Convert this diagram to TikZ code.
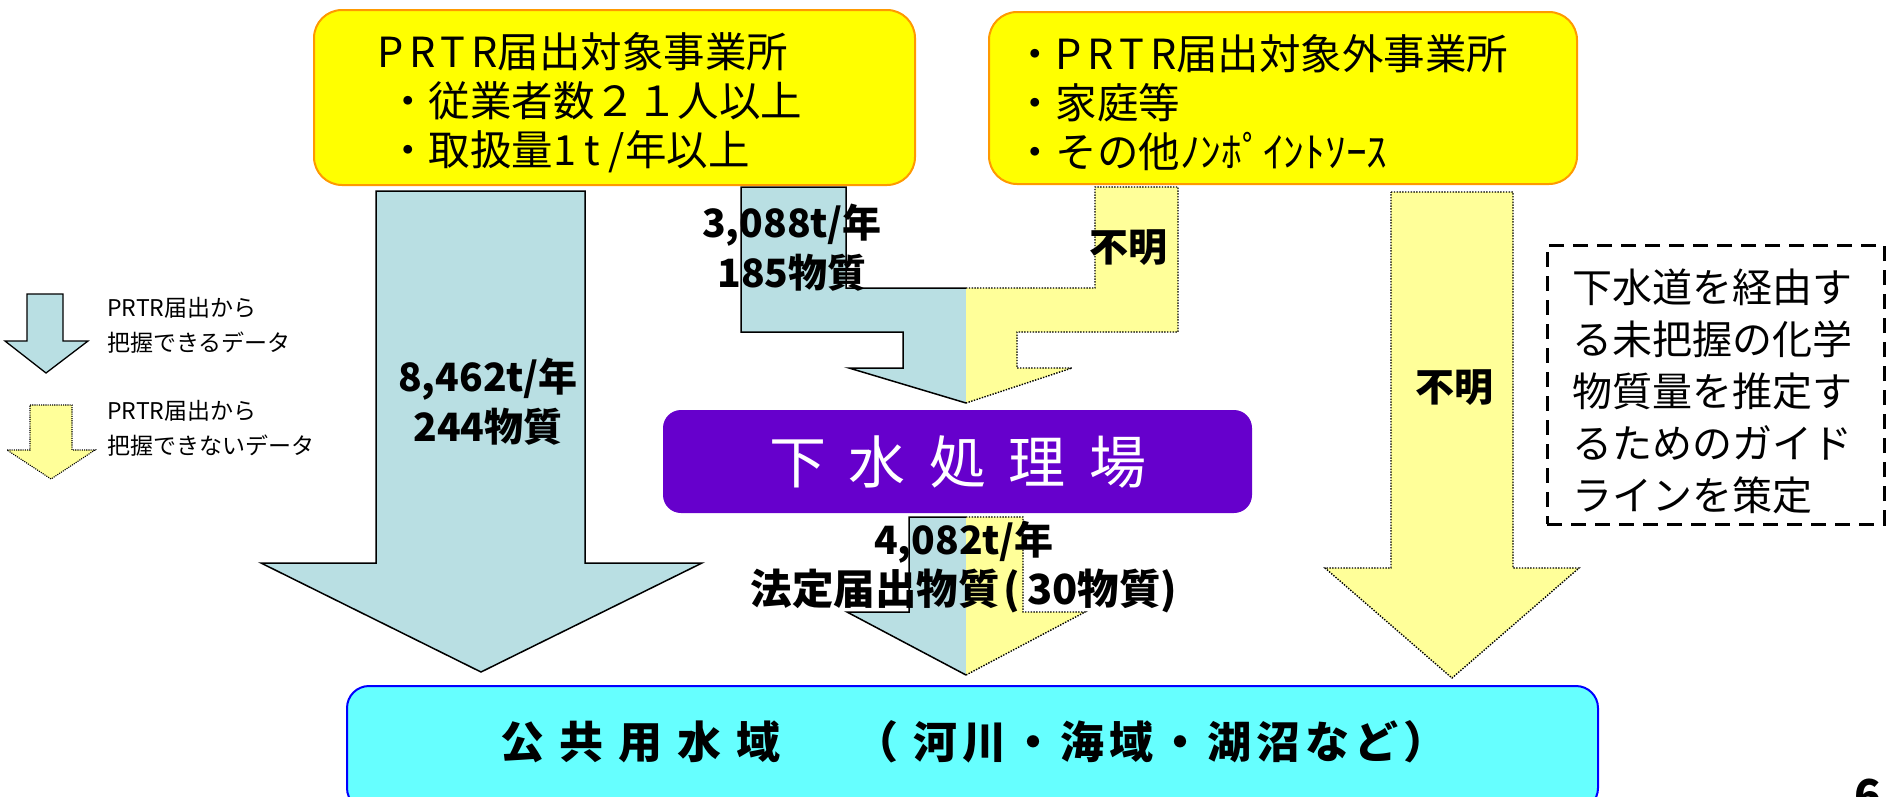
\documentclass[tikz,border=0pt]{standalone}
\usepackage{fontspec}
\setmainfont{Noto Sans CJK JP}
\definecolor{ybox}{HTML}{FFFF00}
\definecolor{yorange}{HTML}{FF9900}
\definecolor{abl}{HTML}{B9DFE3}
\definecolor{ayl}{HTML}{FFFF99}
\definecolor{purp}{HTML}{6600CC}
\definecolor{cyanbox}{HTML}{66FFFF}
\definecolor{cyanline}{HTML}{0000FF}
\tikzset{
  yellowbox/.style={draw=yorange, line width=2pt, fill=ybox, rounded corners=28pt, inner sep=0},
  bluestroke/.style={draw=black, line width=1.5pt, line join=miter},
  dotstroke/.style={draw=black, line width=1.4pt, dash pattern=on 1.4pt off 1.4pt},
  flowlbl/.style={font=\bfseries\fontsize{39}{50}\selectfont, align=center, inner sep=0},
  boxtext/.style={font=\fontsize{41.5}{49}\selectfont, align=left, inner sep=0, anchor=west},
  legtext/.style={font=\fontsize{23}{35}\selectfont, align=left, inner sep=0, anchor=west},
  dashbox/.style={draw=black, line width=3pt, dash pattern=on 15pt off 9pt, inner sep=0},
}
\newcommand{\wideL}[1]{{\addfontfeature{LetterSpace=14}#1}}
\begin{document}
\begin{tikzpicture}[x=1pt,y=-1pt]
\useasboundingbox (0,0) rectangle (1895,796);

% ---------- big left arrow (known data) ----------
\draw[bluestroke, fill=abl] (376,191) -- (585,191) -- (585,563) -- (702,563) -- (481,672) -- (261,563) -- (376,563) -- cycle;

% ---------- right arrow (unknown) ----------
\fill[ayl] (1391,192) -- (1513,192) -- (1513,568) -- (1579,568) -- (1452,678) -- (1325,568) -- (1391,568) -- cycle;
\draw[dotstroke] (1391,192) -- (1513,192) -- (1513,568) -- (1579,568) -- (1452,678) -- (1325,568) -- (1391,568) -- cycle;

% ---------- bent arrow into treatment plant ----------
\fill[abl] (741,187) -- (846,187) -- (846,288) -- (966,288) -- (966,403) -- (849,368) -- (903,368) -- (903,332) -- (741,332) -- cycle;
\fill[ayl] (966,288) -- (1095,288) -- (1095,187) -- (1178,187) -- (1178,332) -- (1017,332) -- (1017,368) -- (1072,368) -- (966,403) -- cycle;
\draw[bluestroke] (966,288) -- (846,288) -- (846,187) -- (741,187) -- (741,332) -- (903,332) -- (903,368) -- (849,368) -- (966,403);
\draw[dotstroke] (966,288) -- (1095,288) -- (1095,187) -- (1178,187) -- (1178,332) -- (1017,332) -- (1017,368) -- (1072,368) -- (966,403);

% ---------- arrow out of treatment plant ----------
\fill[abl] (909,517) -- (966,517) -- (966,675) -- (847,612) -- (909,612) -- cycle;
\fill[ayl] (966,517) -- (1023,517) -- (1023,612) -- (1085,612) -- (966,675) -- cycle;
\draw[bluestroke] (966,517) -- (909,517) -- (909,612) -- (847,612) -- (966,675);
\draw[dotstroke] (966,517) -- (1023,517) -- (1023,612) -- (1085,612) -- (966,675);

% ---------- source boxes ----------
\node[yellowbox, minimum width=601pt, minimum height=175pt] (lbox) at (614.5,97.5) {};
\node[yellowbox, minimum width=588pt, minimum height=172pt] (rbox) at (1283,98) {};
\node[boxtext] (ltext) at (377,103) {\wideL{PRTR}届出対象事業所\\\hspace*{10pt}・従業者数２１人以上\\\hspace*{10pt}・取扱量{\addfontfeature{LetterSpace=20}1t/}年以上};
\node[boxtext] (rtext) at (1014,103) {・\wideL{PRTR}届出対象外事業所\\・家庭等\\・その他ﾉﾝﾎﾟｲﾝﾄｿｰｽ};

% ---------- treatment plant ----------
\node[fill=purp, rounded corners=18pt, minimum width=589pt, minimum height=103pt, inner sep=0,
      text=white, font=\fontsize{57}{60}\selectfont] (stp) at (957.5,461.5)
      {下\kern23pt 水\kern23pt 処\kern23pt 理\kern23pt 場};

% ---------- public water body ----------
\node[fill=cyanbox, draw=cyanline, line width=2pt, rounded corners=22pt, minimum width=1251pt, minimum height=124pt, inner sep=0] (water) at (972.5,748) {};
\node[font=\bfseries\fontsize{44}{50}\selectfont, inner sep=0] (wtext) at (974,742)
      {公\kern15pt 共\kern15pt 用\kern15pt 水\kern15pt 域\kern30pt　（\kern15pt 河\kern5pt 川\kern5pt ・\kern5pt 海\kern5pt 域\kern5pt ・\kern5pt 湖\kern5pt 沼\kern5pt な\kern5pt ど\kern5pt ）};

% ---------- flow labels ----------
\node[flowlbl] (q1) at (488,402) {8,462t/年\\244物質};
\node[flowlbl] (q2) at (792,248) {3,088t/年\\185物質};
\node[flowlbl] (q3) at (1128,248) {不明};
\node[flowlbl] (q4) at (1454,388) {不明};
\node[flowlbl] (q5) at (964,567) {4,082t/年\\{\fontsize{41.5}{50}\selectfont 法定届出物質\kern4pt(\kern7pt 30物質)}};

% ---------- guideline box ----------
\node[dashbox, minimum width=337pt, minimum height=279pt] (guide) at (1715.5,384.5) {};
\node[font=\fontsize{40}{52}\selectfont, align=left, inner sep=0] (gtext) at (1712,391)
      {下水道を経由す\\る未把握の化学\\物質量を推定す\\るためのガイド\\ラインを策定};

% ---------- legend ----------
\draw[bluestroke, line width=1.3pt, fill=abl] (27,294) -- (63,294) -- (63,341) -- (88,341) -- (46,373) -- (5,341) -- (27,341) -- cycle;
\fill[ayl] (30,405) -- (72,405) -- (72,450) -- (95,450) -- (51,479) -- (7,450) -- (30,450) -- cycle;
\draw[dotstroke, line width=1.1pt, dash pattern=on 1.1pt off 1.1pt] (30,405) -- (72,405) -- (72,450) -- (95,450) -- (51,479) -- (7,450) -- (30,450) -- cycle;
\node[legtext] (leg1) at (107,325) {PRTR届出から\\把握できるデータ};
\node[legtext] (leg2) at (107,428) {PRTR届出から\\把握できないデータ};

% ---------- page number (cut off by the page edge) ----------
\node[font=\bfseries\fontsize{44}{50}\selectfont, inner sep=0, anchor=north] (pg) at (1868,779) {6};
\end{tikzpicture}
\end{document}
